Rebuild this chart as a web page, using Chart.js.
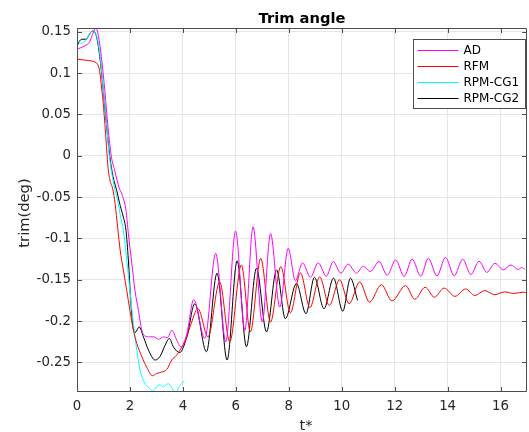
<!DOCTYPE html>
<html>
<head>
<meta charset="utf-8">
<script src="https://cdn.jsdelivr.net/npm/chart.js@4/dist/chart.umd.min.js"></script>
<style>
  html, body { margin: 0; padding: 0; background: #fff; }
  #wrap { width: 529px; height: 432px; }
</style>
</head>
<body>
<div id="wrap"><canvas id="c" width="529" height="432"></canvas></div>
<script>
// Trim angle time histories for the four models
const seriesNames = ['AD', 'RFM', 'RPM-CG1', 'RPM-CG2'];
const seriesColors = ['#ff00ff', '#ff0000', '#00ffff', '#000000'];

const adT = [0,0.29,0.48,0.6,0.7,0.79,0.92,1.05,1.17,1.3,1.42,1.6,1.69,1.85,1.94,2.07,2.19,2.32,2.45,2.57,2.75,2.9,3.08,3.27,3.42,3.58,3.77,3.92,4.15,4.41,4.83,5.24,5.62,5.99,6.34,6.65,7.0,7.31,7.66,7.98,8.25,8.52,8.82,9.11,9.42,9.68,9.97,10.24,10.56,10.81,11.08,11.41,11.72,12.04,12.36,12.66,12.99,13.27,13.6,13.92,14.25,14.57,14.88,15.19,15.48,15.79,16.1,16.39,16.67,16.8,16.92];
const adV = [0.129,0.133,0.138,0.148,0.1545,0.148,0.12,0.0795,0.035,-0.0012,-0.0173,-0.0395,-0.046,-0.066,-0.094,-0.130,-0.163,-0.187,-0.211,-0.218,-0.219,-0.219,-0.222,-0.219,-0.220,-0.211,-0.223,-0.231,-0.215,-0.174,-0.221,-0.118,-0.225,-0.091,-0.211,-0.086,-0.201,-0.094,-0.183,-0.112,-0.151,-0.1295,-0.147,-0.1295,-0.1456,-0.128,-0.142,-0.131,-0.142,-0.1335,-0.140,-0.128,-0.1444,-0.126,-0.146,-0.125,-0.1456,-0.124,-0.1452,-0.123,-0.1452,-0.125,-0.1436,-0.1275,-0.141,-0.130,-0.138,-0.132,-0.1375,-0.135,-0.1375];

const rfmT = [0,0.35,0.73,0.79,0.86,0.93,0.98,1.08,1.17,1.24,1.35,1.44,1.54,1.63,1.75,1.88,2.0,2.13,2.26,2.45,2.63,2.85,3.01,3.2,3.39,3.58,3.77,3.89,4.08,4.27,4.57,4.95,5.39,5.77,6.21,6.55,6.94,7.31,7.7,8.06,8.44,8.8,9.17,9.53,9.92,10.28,10.68,11.05,11.5,11.9,12.41,12.76,13.15,13.5,13.87,14.28,14.68,15.03,15.4,15.78,16.16,16.5,16.86,17.0];
const rfmV = [0.117,0.1155,0.1126,0.110,0.1017,0.082,0.0674,0.027,-0.0133,-0.029,-0.040,-0.058,-0.088,-0.114,-0.138,-0.163,-0.187,-0.211,-0.227,-0.243,-0.2555,-0.266,-0.2634,-0.2615,-0.2585,-0.247,-0.241,-0.235,-0.225,-0.207,-0.185,-0.219,-0.1525,-0.225,-0.132,-0.213,-0.124,-0.201,-0.134,-0.190,-0.1416,-0.1836,-0.1465,-0.181,-0.150,-0.179,-0.1525,-0.177,-0.156,-0.1755,-0.157,-0.1735,-0.159,-0.171,-0.160,-0.170,-0.161,-0.169,-0.163,-0.168,-0.1646,-0.1665,-0.165,-0.1655];

const cg1T = [0,0.17,0.33,0.48,0.6,0.73,0.86,0.98,1.11,1.21,1.38,1.56,1.66,1.75,1.88,2.0,2.13,2.26,2.38,2.51,2.7,2.86,3.0,3.13,3.27,3.44,3.58,3.72,3.86,4.05];
const cg1V = [0.141,0.136,0.140,0.148,0.151,0.146,0.124,0.0856,0.041,0.003,-0.033,-0.058,-0.076,-0.090,-0.126,-0.163,-0.203,-0.235,-0.259,-0.272,-0.280,-0.2845,-0.2796,-0.277,-0.2795,-0.2756,-0.2805,-0.289,-0.279,-0.2727];

const cg2T = [0,0.17,0.35,0.45,0.58,0.73,0.86,0.98,1.11,1.24,1.36,1.5,1.63,1.75,1.85,1.94,2.03,2.1,2.19,2.35,2.51,2.7,2.95,3.14,3.33,3.49,3.64,3.88,4.15,4.45,4.89,5.29,5.67,6.05,6.4,6.78,7.16,7.54,7.87,8.29,8.65,8.97,9.33,9.69,10.04,10.33,10.6];
const cg2V = [0.133,0.141,0.141,0.146,0.151,0.145,0.12,0.0835,0.039,-0.001,-0.025,-0.042,-0.060,-0.074,-0.090,-0.126,-0.175,-0.203,-0.214,-0.207,-0.219,-0.235,-0.247,-0.2425,-0.229,-0.221,-0.231,-0.238,-0.219,-0.179,-0.237,-0.142,-0.247,-0.127,-0.231,-0.136,-0.213,-0.138,-0.197,-0.1545,-0.191,-0.147,-0.185,-0.148,-0.188,-0.148,-0.175];

const xTicks = [0, 2, 4, 6, 8, 10, 12, 14, 16];
const yTicks = [-0.25, -0.2, -0.15, -0.1, -0.05, 0, 0.05, 0.1, 0.15];
const xRange = [0, 17];
const yRange = [-0.2857, 0.1546];

const titleText = 'Trim angle';
const xLabel = 't*';
const yLabel = 'trim(deg)';

const FONT = '"DejaVu Sans", sans-serif';
const TEXT_COLOR = '#262626';
const BOX_COLOR = '#4d4d4d';
const GRID_COLOR = '#e6e6e6';

const pairs = (ts, vs) => ts.map((t, i) => ({ x: t, y: vs[i] }));
const seriesData = [pairs(adT, adV), pairs(rfmT, rfmV), pairs(cg1T, cg1V), pairs(cg2T, cg2V)];

const fmt = v => String(Math.round(v * 100) / 100);

// axes box, inward tick marks, legend, title and axis labels
const decorations = {
  id: 'decorations',
  afterDatasetsDraw(chart) {
    const { ctx, chartArea: a, scales: { x, y } } = chart;
    ctx.save();
    ctx.strokeStyle = BOX_COLOR;
    ctx.lineWidth = 1;
    const L = a.left + 0.5, R = a.right - 0.5, T = a.top + 0.5, B = a.bottom - 0.5;
    ctx.beginPath();
    ctx.rect(L, T, R - L, B - T);
    const tk = 4.5;
    xTicks.forEach(v => {
      const px = Math.round(x.getPixelForValue(v)) + 0.5;
      ctx.moveTo(px, B); ctx.lineTo(px, B - tk);
      ctx.moveTo(px, T); ctx.lineTo(px, T + tk);
    });
    yTicks.forEach(v => {
      const py = Math.round(y.getPixelForValue(v)) + 0.5;
      ctx.moveTo(L, py); ctx.lineTo(L + tk, py);
      ctx.moveTo(R, py); ctx.lineTo(R - tk, py);
    });
    ctx.stroke();

    // legend
    const bw = 112, bh = 69;
    const bx = Math.round(a.right - 2.5 - bw) + 0.5;
    const by = Math.round(a.top + 11) + 0.5;
    ctx.fillStyle = '#ffffff';
    ctx.fillRect(bx, by, bw, bh);
    ctx.strokeStyle = BOX_COLOR;
    ctx.strokeRect(bx, by, bw, bh);
    ctx.font = '12px ' + FONT;
    ctx.textBaseline = 'middle';
    ctx.textAlign = 'left';
    chart.data.datasets.forEach((ds, i) => {
      const ly = Math.round(by + 10 + i * 16.3) + 0.5;
      ctx.strokeStyle = ds.borderColor;
      ctx.beginPath();
      ctx.moveTo(bx + 4, ly); ctx.lineTo(bx + 45, ly);
      ctx.stroke();
      ctx.fillStyle = '#000';
      ctx.fillText(ds.label, bx + 50, ly);
    });

    // title and axis labels
    const cx = (a.left + a.right) / 2;
    ctx.fillStyle = '#000';
    ctx.textAlign = 'center';
    ctx.textBaseline = 'alphabetic';
    ctx.font = 'bold 14.7px ' + FONT;
    ctx.fillText(titleText, cx, 23);
    ctx.fillStyle = TEXT_COLOR;
    ctx.font = '14.7px ' + FONT;
    ctx.fillText(xLabel, cx + 4, 429.5);
    ctx.save();
    ctx.translate(28.5, (a.top + a.bottom) / 2 + 3);
    ctx.rotate(-Math.PI / 2);
    ctx.fillText(yLabel, 0, 0);
    ctx.restore();
    ctx.restore();
  }
};

new Chart(document.getElementById('c'), {
  type: 'line',
  data: {
    datasets: seriesNames.map((name, i) => ({
      label: name,
      data: seriesData[i],
      borderColor: seriesColors[i],
      backgroundColor: seriesColors[i],
      borderWidth: 1,
      pointRadius: 0,
      fill: false,
      cubicInterpolationMode: 'monotone',
      clip: 0
    }))
  },
  options: {
    responsive: false,
    animation: false,
    devicePixelRatio: 1,
    layout: { padding: { left: 0, right: 2, top: 28, bottom: 0 } },
    plugins: { legend: { display: false }, title: { display: false }, tooltip: { enabled: false } },
    scales: {
      x: {
        type: 'linear',
        min: xRange[0], max: xRange[1],
        afterBuildTicks: s => { s.ticks = xTicks.map(v => ({ value: v })); },
        afterFit: s => { s.height = 40; },
        grid: { color: GRID_COLOR, lineWidth: 1, drawTicks: false },
        border: { display: false },
        ticks: { padding: 7, color: TEXT_COLOR, font: { family: FONT, size: 13.3 }, callback: v => fmt(v), maxRotation: 0, autoSkip: false }
      },
      y: {
        type: 'linear',
        min: yRange[0], max: yRange[1],
        afterBuildTicks: s => { s.ticks = yTicks.map(v => ({ value: v })); },
        afterFit: s => { s.width = 77; },
        grid: { color: GRID_COLOR, lineWidth: 1, drawTicks: false },
        border: { display: false },
        ticks: { padding: 6, color: TEXT_COLOR, font: { family: FONT, size: 13.3 }, callback: v => fmt(v), autoSkip: false }
      }
    }
  },
  plugins: [decorations]
});
</script>
</body>
</html>
